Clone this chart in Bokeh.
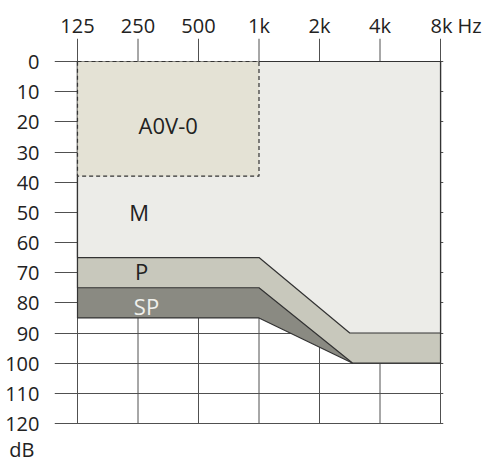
from bokeh.plotting import figure
from bokeh.models import Range1d, FixedTicker
from bokeh.embed import file_html
from bokeh.resources import INLINE
from bokeh.core.properties import value

# ---- data ----
freq_labels = ["125", "250", "500", "1k", "2k", "4k", "8k"]
octaves = [0, 1, 2, 3, 4, 5, 6]          # octave index from 125 Hz
db_ticks = [0, 10, 20, 30, 40, 50, 60, 70, 80, 90, 100, 110, 120]
unit_x = "Hz"
unit_y = "dB"

# lower boundary of each fitting range (octave index, dB HL)
m_x = [0, 3.0, 4.5, 6]
m_db = [65, 65, 90, 90]
p_x = [0, 3.0, 4.55, 6]
p_db = [75, 75, 100, 100]
sp_x = [0, 3.0, 4.55, 6]
sp_db = [85, 85, 100, 100]
aov_x = [0, 3]
aov_db = [0, 38]

region_names = ["A0V-0", "M", "P", "SP"]
label_x = [1.5, 1.02, 1.06, 1.14]
label_db = [21, 50, 69.5, 81]

# ---- style / layout ----
FONT = "Open Sans"
LINE = "#333333"
GRID = "#505050"
W, H = 484, 462
PX_OCT = 60.5          # px per octave
PX_DB = 362 / 120      # px per dB
TICK = 23              # outward tick length, px
X0_PX, Y0_PX = 77, 61  # where 125 Hz / 0 dB sit
RIGHT_PX = 443         # frame right edge
BOTTOM_PX = 462        # frame bottom edge

x_start = -TICK / PX_OCT
x_end = 6 + (RIGHT_PX - (X0_PX + 6 * PX_OCT)) / PX_OCT
y_start = -TICK / PX_DB
y_end = 120 + (BOTTOM_PX - (Y0_PX + 120 * PX_DB)) / PX_DB

p = figure(width=W, height=H,
           x_range=Range1d(x_start, x_end), y_range=Range1d(y_end, y_start),
           x_axis_location="above",
           output_backend="svg", toolbar_location=None,
           min_border_left=int(X0_PX - TICK),
           min_border_right=int(W - RIGHT_PX),
           min_border_top=int(Y0_PX - TICK),
           min_border_bottom=int(H - BOTTOM_PX))
p.outline_line_color = None
p.background_fill_color = "white"
p.border_fill_color = "white"

for ax in (p.xaxis[0], p.yaxis[0]):
    ax.axis_line_color = None
    ax.major_tick_line_color = None
    ax.minor_tick_line_color = None
    ax.major_label_text_font = FONT
    ax.major_label_text_font_size = "20px"
    ax.major_label_text_color = "#222222"

# x axis: last label carries the unit, padded so "8k" stays centred on its tick
xl = list(freq_labels)
xl[-1] = "\u00a0" * 6 + xl[-1] + " " + unit_x
p.xaxis.ticker = FixedTicker(ticks=octaves)
p.xaxis.major_label_overrides = {o: l for o, l in zip(octaves, xl)}
p.xaxis.major_label_standoff = -6

# y axis: unit written one step below the last tick
unit_pos = db_ticks[-1] + 10
p.yaxis.ticker = FixedTicker(ticks=db_ticks + [unit_pos])
p.yaxis.major_label_overrides = {d: str(d) for d in db_ticks}
p.yaxis.major_label_overrides[unit_pos] = unit_y + "\u00a0"
p.yaxis.major_label_standoff = 9

# horizontal lines (grid + ticks) via ygrid, vertical via segments
p.xgrid.visible = False
p.ygrid.ticker = FixedTicker(ticks=db_ticks)
p.ygrid.grid_line_color = GRID
p.ygrid.grid_line_width = 1
p.segment(x0=octaves, x1=octaves, y0=[y_start] * len(octaves),
          y1=[db_ticks[-1]] * len(octaves), line_color=GRID, line_width=1)

def region(bx, bdb, fill):
    xs = [bx[0]] + list(bx) + [bx[-1]]
    ys = [0] + list(bdb) + [0]
    p.patch(xs, ys, fill_color=fill, line_color=LINE, line_width=1.2,
            line_join="round")

region(sp_x, sp_db, "#8a8a82")
region(p_x, p_db, "#c8c8bc")
region(m_x, m_db, "#ecece8")

p.patch([aov_x[0], aov_x[1], aov_x[1], aov_x[0]],
        [aov_db[0], aov_db[0], aov_db[1], aov_db[1]],
        fill_color="#e4e2d5", line_color=LINE, line_width=1.2,
        line_dash="4 3")

p.text(x=label_x[:3], y=label_db[:3], text=region_names[:3],
       text_align="center", text_baseline="middle",
       text_font=value(FONT), text_font_size="22px", text_color="#222222")
p.text(x=label_x[3:], y=label_db[3:], text=region_names[3:],
       text_align="center", text_baseline="middle",
       text_font=value(FONT), text_font_size="22px", text_color="#f0f0ec")

open("out.html", "w").write(file_html(p, INLINE))
